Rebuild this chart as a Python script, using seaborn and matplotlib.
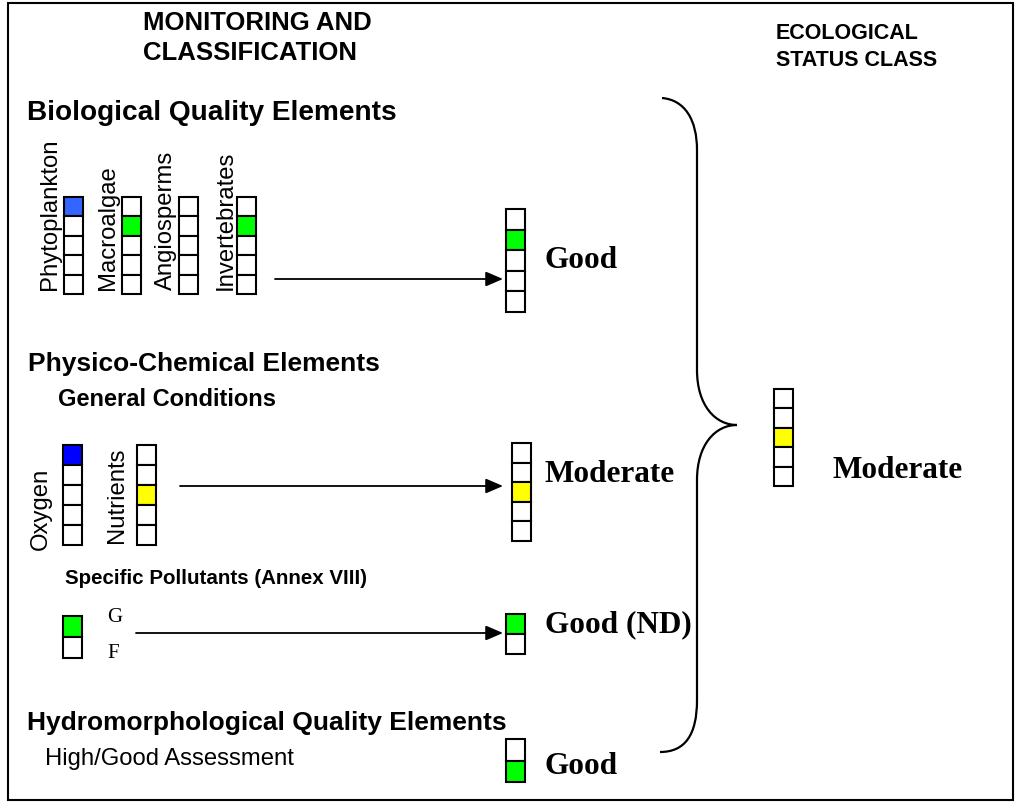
"""Ecological status classification diagram (monitoring -> status class)."""

import matplotlib

matplotlib.use("Agg")

import matplotlib.pyplot as plt
import seaborn as sns
from matplotlib.patches import PathPatch, Rectangle
from matplotlib.path import Path

# ---- data -------------------------------------------------------------
N_CLASSES = 5  # High, Good, Moderate, Poor, Bad

BIO_ELEMENTS = ["Phytoplankton", "Macroalgae", "Angiosperms", "Invertebrates"]
BIO_CLASS = [0, 1, None, 1]  # index of filled cell, 0 = High
BIO_COLOURS = ["#3366FF", "#00FF00", None, "#00FF00"]

GC_ELEMENTS = ["Oxygen", "Nutrients"]
GC_CLASS = [0, 2]
GC_COLOURS = ["#0000FF", "#FFFF00"]

SP_LABELS = ["G", "F"]
SP_CLASS = 0
SP_COLOUR = "#00FF00"

RESULT_LABELS = ["Good", "Moderate", "Good (ND)", "Good"]
RESULT_CELLS = [5, 5, 2, 2]
RESULT_CLASS = [1, 2, 0, 1]
RESULT_COLOURS = ["#00FF00", "#FFFF00", "#00FF00", "#00FF00"]

OVERALL_LABEL = "Moderate"
OVERALL_CLASS = 2
OVERALL_COLOUR = "#FFFF00"

SANS = "Liberation Sans"
SERIF = "Liberation Serif"


def draw_column(ax, x, top, n, filled, colour, w=19.5, h=19.6):
    for i in range(n):
        face = colour if i == filled else "white"
        ax.add_patch(Rectangle((x, top + i * h), w, h, facecolor=face,
                               edgecolor="black", lw=1.5, zorder=3))


def arrow(ax, x0, x1, y):
    ax.annotate("", xy=(x1, y), xytext=(x0, y),
                arrowprops=dict(arrowstyle="-|>,head_length=0.7,head_width=0.3",
                                color="black", lw=1.3, mutation_scale=15,
                                shrinkA=0, shrinkB=0))


sns.set_theme(style="white")
plt.rcParams["font.family"] = [SANS, "DejaVu Sans"]
plt.rcParams["text.color"] = "black"

fig = plt.figure(figsize=(10.15, 8.02), dpi=100)
ax = fig.add_axes([0, 0, 1, 1])
ax.set_xlim(0, 1015)
ax.set_ylim(802, 0)
ax.axis("off")

# frame
ax.add_patch(Rectangle((8, 3), 1005, 797, fill=False, edgecolor="black", lw=1.5))

# headers
ax.text(143, 38, "MONITORING AND\nCLASSIFICATION", fontsize=18.5, fontweight="bold",
        ha="left", va="center", linespacing=1.3)
ax.text(776, 47, "ECOLOGICAL\nSTATUS CLASS", fontsize=15.5, fontweight="bold",
        ha="left", va="center", linespacing=1.35)

# biological quality elements
ax.text(27, 113, "Biological Quality Elements", fontsize=20.2, fontweight="bold",
        va="center")
bio_x = [64, 122, 179, 237]
label_x = [50, 108, 166, 226]
for name, cls, col, x, lx in zip(BIO_ELEMENTS, BIO_CLASS, BIO_COLOURS, bio_x, label_x):
    draw_column(ax, x, 197, N_CLASSES, cls, col, h=19.4)
    ax.text(lx, 290, name, rotation=90, fontsize=17.2, ha="center", va="bottom")
arrow(ax, 275, 503, 279)

# physico-chemical elements
ax.text(28, 364, "Physico-Chemical Elements", fontsize=19, fontweight="bold",
        va="center")
ax.text(58, 399, "General Conditions", fontsize=17, fontweight="bold", va="center")
gc_x = [63, 137]
gc_lx = [41, 117]
gc_bottom = [550, 543]
for name, cls, col, x, lx, yb in zip(GC_ELEMENTS, GC_CLASS, GC_COLOURS, gc_x, gc_lx,
                                     gc_bottom):
    draw_column(ax, x, 445, N_CLASSES, cls, col, h=20.0)
    ax.text(lx, yb, name, rotation=90, fontsize=17.2, ha="center", va="bottom")
arrow(ax, 180, 503, 486)

ax.text(65, 578, "Specific Pollutants (Annex VIII)", fontsize=14.8, fontweight="bold",
        va="center")
draw_column(ax, 63, 616, len(SP_LABELS), SP_CLASS, SP_COLOUR, h=21)
for i, lab in enumerate(SP_LABELS):
    ax.text(107, 618 + i * 35, lab, fontsize=15, family=SERIF, va="center")
arrow(ax, 136, 503, 633)

# hydromorphological
ax.text(27, 723, "Hydromorphological Quality Elements", fontsize=19,
        fontweight="bold", va="center")
ax.text(45, 759, "High/Good Assessment", fontsize=17.2, va="center")

# intermediate results
res_x = [506, 512, 506, 506]
res_top = [209, 443, 614, 739]
res_h = [20.6, 19.6, 20.0, 21.5]
res_ty = [260, 475, 625, 767]
for lab, n, cls, col, x, top, h, ty in zip(RESULT_LABELS, RESULT_CELLS, RESULT_CLASS,
                                           RESULT_COLOURS, res_x, res_top, res_h,
                                           res_ty):
    draw_column(ax, x, top, n, cls, col, h=h)
    ax.text(545, ty, lab, fontsize=22.5, family=SERIF, fontweight="bold", va="center")

# brace
verts = [(662, 98), (685, 100), (697, 120), (697, 150),
         (697, 370),
         (697, 405), (715, 425), (737, 425),
         (715, 425), (697, 445), (697, 480),
         (697, 700),
         (697, 735), (685, 752), (660, 752)]
codes = ([Path.MOVETO] + [Path.CURVE4] * 3 + [Path.LINETO] + [Path.CURVE4] * 3
         + [Path.CURVE4] * 3 + [Path.LINETO] + [Path.CURVE4] * 3)
ax.add_patch(PathPatch(Path(verts, codes), fill=False, edgecolor="black", lw=1.6))

# overall status
draw_column(ax, 774, 389, N_CLASSES, OVERALL_CLASS, OVERALL_COLOUR, h=19.4)
ax.text(833, 470, OVERALL_LABEL, fontsize=22.5, family=SERIF, fontweight="bold",
        va="center")

fig.savefig("out.png", dpi=100, facecolor="white")
